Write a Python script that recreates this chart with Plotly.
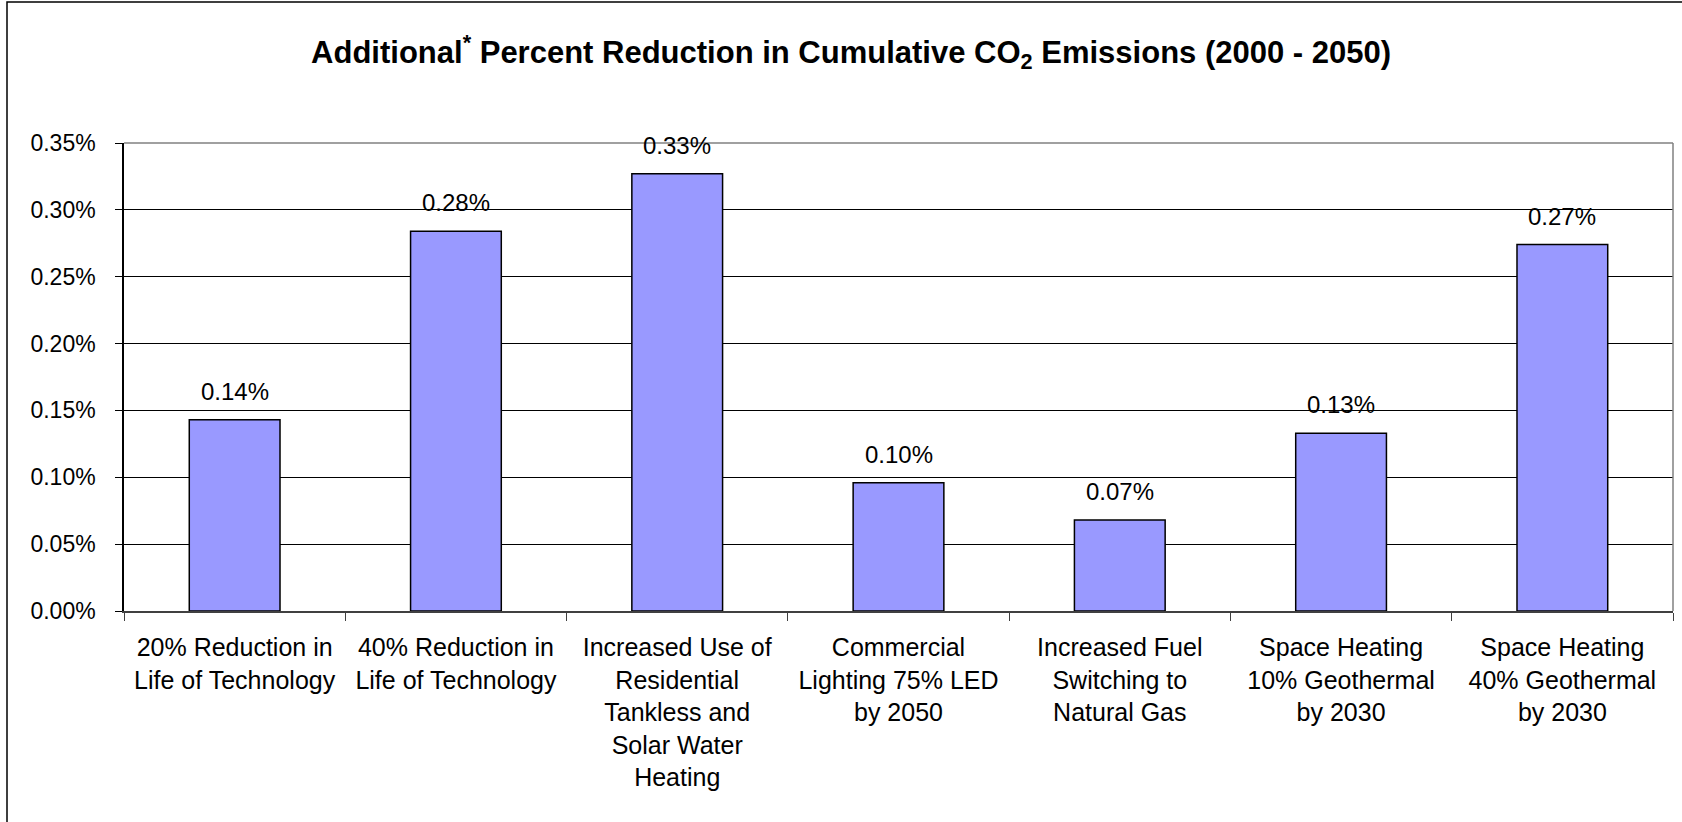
import plotly.graph_objects as go

# Scenario labels (line breaks as wrapped on the axis)
categories = [
    "20% Reduction in<br>Life of Technology",
    "40% Reduction in<br>Life of Technology",
    "Increased Use of<br>Residential<br>Tankless and<br>Solar Water<br>Heating",
    "Commercial<br>Lighting 75% LED<br>by 2050",
    "Increased Fuel<br>Switching to<br>Natural Gas",
    "Space Heating<br>10% Geothermal<br>by 2030",
    "Space Heating<br>40% Geothermal<br>by 2030",
]

# Additional reduction in cumulative CO2 emissions (fraction)
reductions = [0.00143, 0.00284, 0.00327, 0.00096, 0.00068, 0.00133, 0.00274]

y_ticks = [0.0, 0.0005, 0.0010, 0.0015, 0.0020, 0.0025, 0.0030, 0.0035]

FONT = "Liberation Sans, Arial, sans-serif"

fig = go.Figure()
fig.add_trace(go.Bar(
    x=categories,
    y=reductions,
    marker=dict(color="#9999FF", line=dict(color="#000000", width=1.5)),
    width=0.41,
    hoverinfo="skip",
))

# Value labels above each bar
for cat, val in zip(categories, reductions):
    fig.add_annotation(
        x=cat, y=val, text=f"{val:.2%}", showarrow=False,
        yanchor="bottom", yshift=13,
        font=dict(family=FONT, size=24, color="#000000"),
    )

# Outer frame of the chart
fig.add_shape(
    type="rect", xref="paper", yref="paper",
    x0=-117 / 1549, x1=1.2, y0=-0.6, y1=1 + 141 / 468,
    line=dict(color="#000000", width=1.5), fillcolor="rgba(0,0,0,0)",
    layer="below",
)

fig.update_layout(
    width=1682, height=822,
    margin=dict(l=124, r=9, t=143, b=211),
    paper_bgcolor="#FFFFFF",
    plot_bgcolor="#FFFFFF",
    showlegend=False,
    title=dict(
        text="Additional<sup>*</sup> Percent Reduction in Cumulative CO<sub>2</sub> Emissions (2000 - 2050)",
        x=0.506, xanchor="center", xref="container",
        y=1 - 52 / 822, yanchor="middle", yref="container",
        font=dict(family=FONT, size=31, color="#000000", weight="bold"),
    ),
    xaxis=dict(
        type="category",
        tickson="boundaries",
        ticks="outside", ticklen=8, tickcolor="#404040", tickwidth=1,
        showline=True, linecolor="#404040", linewidth=2,
        mirror=False,
        showgrid=False,
        tickfont=dict(family=FONT, size=25, color="#000000"),
        ticklabelstandoff=13,
    ),
    yaxis=dict(
        range=[0, 0.0035],
        tickvals=y_ticks,
        tickformat=".2%",
        ticks="outside", ticklen=7, tickcolor="#000000", tickwidth=1,
        showline=True, linecolor="#000000", linewidth=1.5,
        showgrid=True, gridcolor="#000000", gridwidth=1,
        zeroline=False,
        tickfont=dict(family=FONT, size=23, color="#000000"),
        ticklabelstandoff=15,
    ),
)

# Gray border on the top and right of the plotting area
fig.add_shape(type="line", xref="paper", yref="paper", x0=0, x1=1, y0=1, y1=1,
              line=dict(color="#808080", width=1.5))
fig.add_shape(type="line", xref="paper", yref="paper", x0=1, x1=1, y0=0, y1=1,
              line=dict(color="#808080", width=1.5))

fig.write_html("out.html")
